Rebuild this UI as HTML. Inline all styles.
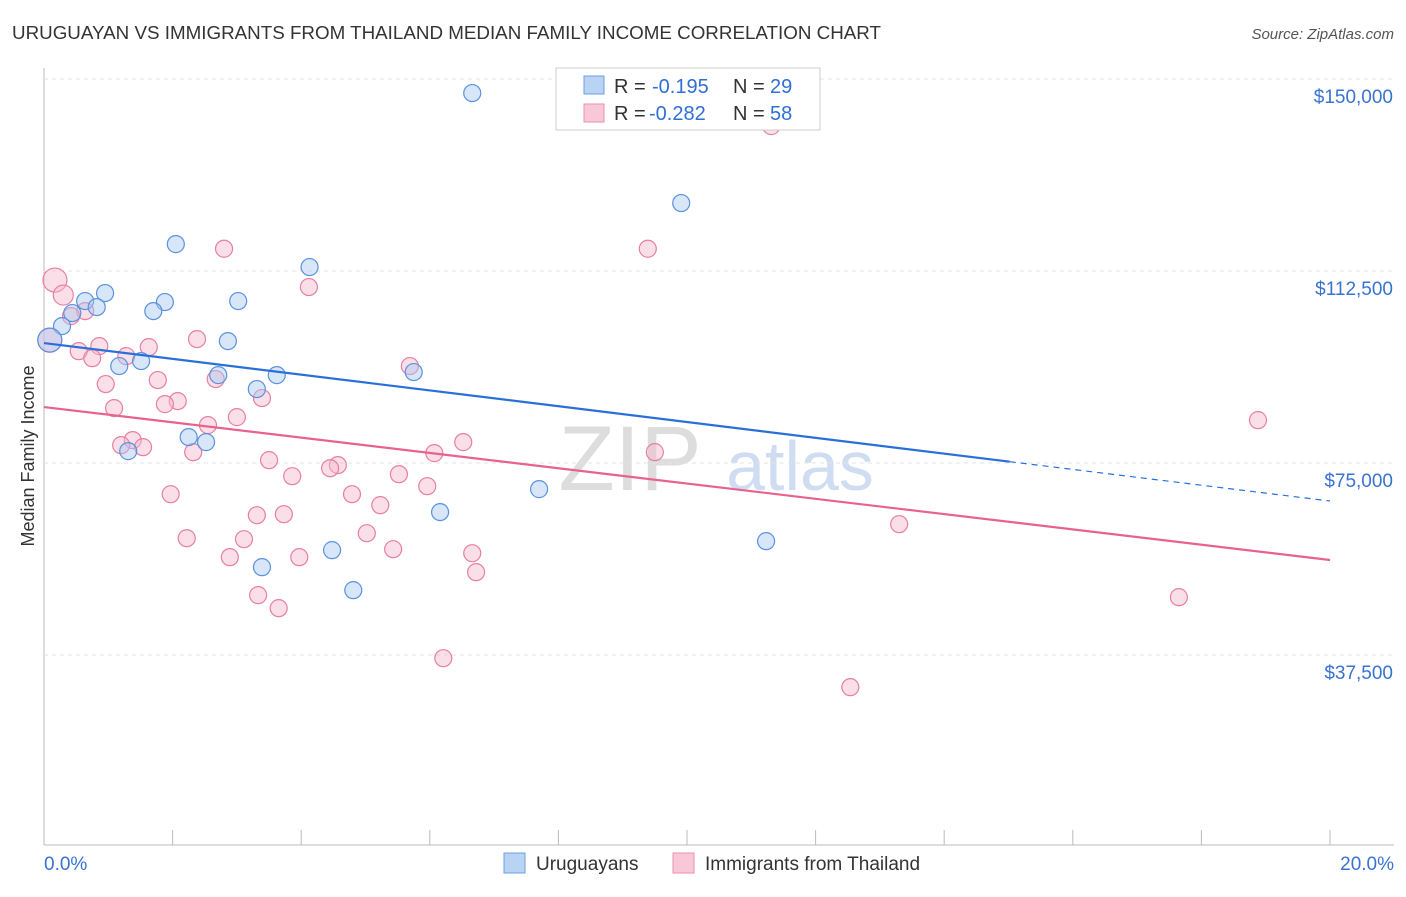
<!DOCTYPE html>
<html><head><meta charset="utf-8"><style>
body{margin:0;background:#fff;font-family:"Liberation Sans",sans-serif;}
svg text{font-family:"Liberation Sans",sans-serif;}
</style></head><body>
<svg id="c" width="1406" height="892" xmlns="http://www.w3.org/2000/svg">
<text x="12" y="39" font-size="18" fill="#333" textLength="869" lengthAdjust="spacingAndGlyphs">URUGUAYAN VS IMMIGRANTS FROM THAILAND MEDIAN FAMILY INCOME CORRELATION CHART</text>
<text x="1394" y="39" font-size="15" fill="#555" font-style="italic" text-anchor="end">Source: ZipAtlas.com</text>
<text x="0" y="0" transform="translate(34,456) rotate(-90)" font-size="18" fill="#333" text-anchor="middle">Median Family Income</text>
<text x="630" y="490" font-size="92" fill="#ddd" font-family="Liberation Serif" text-anchor="middle">ZIP</text>
<text x="800" y="490" font-size="70" fill="#cfdcf2" text-anchor="middle">atlas</text>
<g id="grid"></g><g id="marks"></g>
<g>
<rect x="556" y="68" width="264" height="62" fill="#fff" stroke="#ccc"/>
<rect x="584" y="76" width="20" height="18" fill="#b9d3f5" stroke="#6d9fe0"/>
<rect x="584" y="104" width="20" height="18" fill="#f8c8d8" stroke="#eb8fae"/>
<text y="93" font-size="20" fill="#333"><tspan x="614">R =</tspan><tspan x="652" fill="#2f6fd6">-0.195</tspan><tspan x="733">N =</tspan><tspan x="770" fill="#2f6fd6">29</tspan></text>
<text y="120" font-size="20" fill="#333"><tspan x="614">R =</tspan><tspan x="649" fill="#2f6fd6">-0.282</tspan><tspan x="733">N =</tspan><tspan x="770" fill="#2f6fd6">58</tspan></text>
</g>
<g>
<rect x="504" y="853" width="21" height="20" fill="#b9d3f5" stroke="#6d9fe0"/>
<text x="536" y="870" font-size="19" fill="#333">Uruguayans</text>
<rect x="673" y="853" width="21" height="20" fill="#f8c8d8" stroke="#eb8fae"/>
<text x="705" y="870" font-size="19" fill="#333">Immigrants from Thailand</text>
</g>
<text x="44" y="870" font-size="19" fill="#3a72d0">0.0%</text>
<text x="1394" y="870" font-size="19" fill="#3a72d0" text-anchor="end">20.0%</text>
</svg>
<script>
const yTicks=[37500,75000,112500,150000];
const yTickLabels=["$37,500","$75,000","$112,500","$150,000"];
const uruX=[6.66,9.91,2.05,4.13,0.95,0.64,1.88,3.02,0.82,1.70,0.44,0.28,2.86,0.09,1.17,1.51,2.71,3.62,3.31,5.75,2.25,2.52,1.31,7.70,6.16,11.23,4.48,3.39,4.81];
const uruY=[147250,125770,117750,113270,108190,106630,106430,106630,105450,104670,104280,101740,98810,99000,93930,94910,92170,92170,89440,92760,80060,79080,77320,69900,65410,59740,57980,54660,50170];
const thaX=[0.17,0.30,11.31,9.39,2.80,4.12,0.64,0.42,2.38,0.86,1.63,0.54,0.75,1.28,5.69,1.77,0.96,2.67,3.39,2.08,1.88,1.09,3.00,2.55,18.88,1.38,1.20,1.54,2.32,6.52,6.07,9.50,3.50,4.57,4.45,3.86,5.52,5.96,1.97,4.79,5.23,3.31,3.73,13.30,5.02,2.22,3.11,5.43,2.89,3.97,6.66,6.72,3.33,17.65,3.65,6.21,12.54,0.09];
const thaY=[110730,107800,140800,116850,116850,109360,104670,103690,99200,97830,97630,96850,95480,95870,93930,91200,90420,91390,87680,87090,86500,85720,83960,82400,83370,79470,78490,78100,77120,79080,76930,77120,75560,74590,73980,72420,72810,70470,68910,68910,66770,64810,65000,63050,61290,60310,60120,58170,56610,56610,57390,53680,49190,48800,46650,36880,31220,99000];
const xMin=0,xMax=20,x0=44,x1=1330,yBot=847,pxPer=192/37500;
const X=v=>x0+(v-xMin)/(xMax-xMin)*(x1-x0);
const Y=v=>yBot-v*pxPer;
const NS="http://www.w3.org/2000/svg";
function mk(t,a,p){const e=document.createElementNS(NS,t);for(const k in a)e.setAttribute(k,a[k]);p.appendChild(e);return e;}
const g=document.getElementById('grid'),m=document.getElementById('marks');
mk('line',{x1:44,y1:68,x2:44,y2:845,stroke:'#bbb'},g);
mk('line',{x1:44,y1:845,x2:1394,y2:845,stroke:'#bbb'},g);
for(let i=0;i<=10;i++){const x=X(i*2);mk('line',{x1:x,y1:830,x2:x,y2:845,stroke:'#bbb'},g);}
mk('line',{x1:44,y1:79,x2:1394,y2:79,stroke:'#e3e3e3','stroke-dasharray':'4 4'},g);
yTicks.forEach((v,i)=>{
 const l=mk('line',{x1:44,y1:Y(v),x2:1394,y2:Y(v),stroke:'#e3e3e3','stroke-dasharray':'4 4'},g);
 
 
 const t=mk('text',{x:1393,y:Y(v)+24,'font-size':19,fill:'#3a72d0','text-anchor':'end'},g);
 t.textContent=yTickLabels[i];
 
 
});
function pts(xs,ys,fill,stroke,name,bigR,midR){
 xs.forEach((x,i)=>{
  const r=x<0.2?bigR:(x<0.32?midR:8.5);
  const c=mk('circle',{cx:X(x),cy:Y(ys[i]),r:r,fill:fill,'fill-opacity':0.45,stroke:stroke,'stroke-width':1.2},m);
  
  
 });
}
pts(thaX,thaY,'#f6b8cc','#e77fa3','point-thailand',12,10);
pts(uruX,uruY,'#a9c8f2','#5b92de','point-uruguayan',12,8.5);
const bA=98430,bB=67574,pA=85930,pB=56050,bEnd=15.02;
const by=x=>bA+(bB-bA)*x/20, py=x=>pA+(pB-pA)*x/20;
let l=mk('line',{x1:X(0),y1:Y(by(0)),x2:X(bEnd),y2:Y(by(bEnd)),stroke:'#2a6fd8','stroke-width':2.2},m);


l=mk('line',{x1:X(bEnd),y1:Y(by(bEnd)),x2:X(20),y2:Y(by(20)),stroke:'#2a6fd8','stroke-width':1.2,'stroke-dasharray':'6 5'},m);


l=mk('line',{x1:X(0),y1:Y(py(0)),x2:X(20),y2:Y(py(20)),stroke:'#e8628f','stroke-width':2.2},m);


</script>
</body></html>
